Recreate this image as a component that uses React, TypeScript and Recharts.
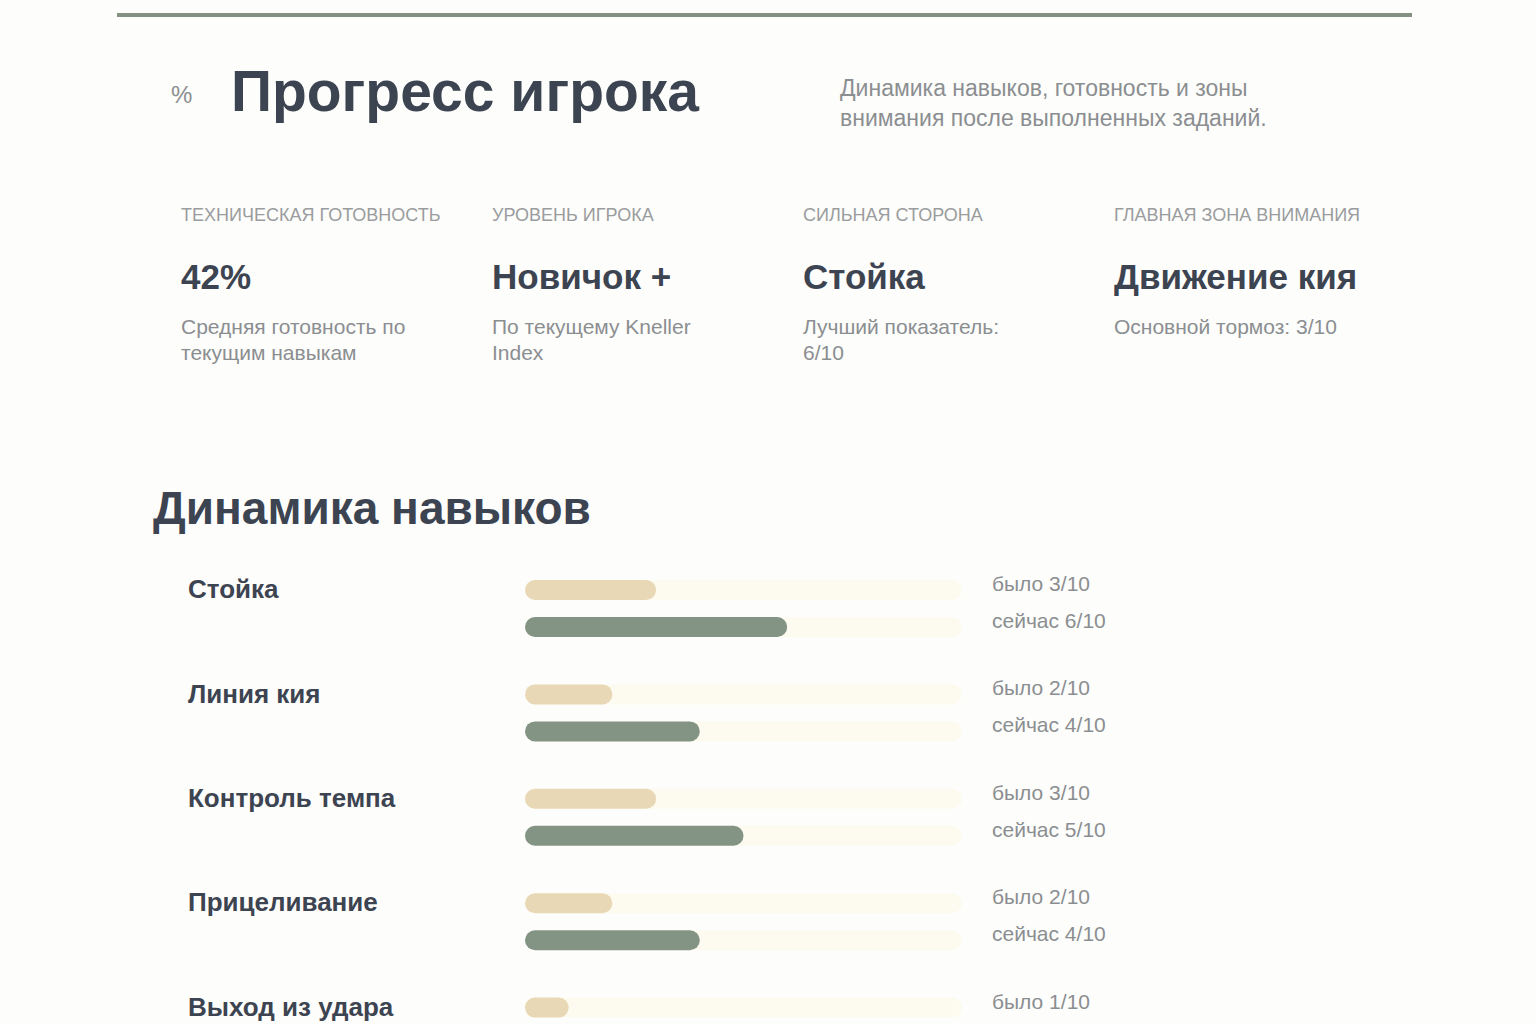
import { BarChart, Bar, XAxis, YAxis } from 'recharts';

const skills   = ['Стойка', 'Линия кия', 'Контроль темпа', 'Прицеливание', 'Выход из удара'];
const wasScore = [3, 2, 3, 2, 1];
const nowScore = [6, 4, 5, 4, 2];

const kpiLabels  = ['ТЕХНИЧЕСКАЯ ГОТОВНОСТЬ', 'УРОВЕНЬ ИГРОКА', 'СИЛЬНАЯ СТОРОНА', 'ГЛАВНАЯ ЗОНА ВНИМАНИЯ'];
const kpiValues  = ['42%', 'Новичок +', 'Стойка', 'Движение кия'];
const kpiNotes   = [
  ['Средняя готовность по', 'текущим навыкам'],
  ['По текущему Kneller', 'Index'],
  ['Лучший показатель:', '6/10'],
  ['Основной тормоз: 3/10'],
];

const data = skills.map((skill, i) => ({ skill, was: wasScore[i], now: nowScore[i] }));

const FONT  = '"Liberation Sans", Arial, sans-serif';
const DARK  = '#3d4451';
const MUTED = '#8b8e91';
const SAGE  = '#849484';
const SAND  = '#e9d8b6';
const TRACK = '#fdfbf0';
const MAX   = 10;

function SkillTick({ y, payload }: any) {
  return (
    <text x={188} y={y - 10} fill={DARK} fontSize={26} fontWeight={700} fontFamily={FONT}>
      {payload.value}
    </text>
  );
}

function makeShape(key: 'was' | 'now', fill: string, prefix: string) {
  return (props: any) => {
    const { x, y, width, height, payload } = props;
    const v = payload[key];
    const track = v > 0 ? (width / v) * MAX : 0;
    return (
      <g>
        <rect x={x} y={y} width={width} height={height} rx={height / 2} fill={fill} />
        <text x={x + track + 30} y={y + height / 2 + 1} fill={MUTED} fontSize={21} fontFamily={FONT}>
          {`${prefix} ${v}/10`}
        </text>
      </g>
    );
  };
}

export default function App() {
  return (
    <div style={{ position: 'absolute', left: 0, top: 0, width: 1536, height: 1024, overflow: 'hidden', background: '#fdfdfb', fontFamily: FONT }}>
      <div style={{ position: 'absolute', left: 117, top: 13, width: 1295, height: 4, background: '#849182' }} />

      <div style={{ position: 'absolute', left: 171, top: 81, fontSize: 24, color: MUTED }}>%</div>
      <div style={{ position: 'absolute', left: 231, top: 58, fontSize: 57, fontWeight: 700, color: DARK, whiteSpace: 'nowrap' }}>
        Прогресс игрока
      </div>
      <div style={{ position: 'absolute', left: 840, top: 73, fontSize: 23, lineHeight: '30px', color: MUTED, whiteSpace: 'nowrap' }}>
        Динамика навыков, готовность и зоны<br />внимания после выполненных заданий.
      </div>

      {kpiLabels.map((label, i) => (
        <div key={label} style={{ position: 'absolute', left: 181 + i * 311, top: 205, width: 300 }}>
          <div style={{ fontSize: 18, color: '#9a9c9e', whiteSpace: 'nowrap' }}>{label}</div>
          <div style={{ marginTop: 31, fontSize: 35, fontWeight: 700, color: DARK, whiteSpace: 'nowrap' }}>{kpiValues[i]}</div>
          <div style={{ marginTop: 17, fontSize: 21, lineHeight: '26px', color: MUTED, whiteSpace: 'nowrap' }}>
            {kpiNotes[i].map(line => <div key={line}>{line}</div>)}
          </div>
        </div>
      ))}

      <div style={{ position: 'absolute', left: 153, top: 481, fontSize: 46, fontWeight: 700, color: DARK, whiteSpace: 'nowrap' }}>
        Динамика навыков
      </div>

      <div style={{ position: 'absolute', left: 0, top: 556 }}>
        <BarChart
          width={1536}
          height={522}
          data={data}
          layout="vertical"
          margin={{ top: 0, right: 574, bottom: 0, left: 0 }}
          barSize={20}
          barGap={17}
        >
          <XAxis type="number" domain={[0, MAX]} hide />
          <YAxis type="category" dataKey="skill" width={525} axisLine={false} tickLine={false} tick={<SkillTick />} />
          <Bar dataKey="was" isAnimationActive={false} background={{ fill: TRACK, radius: 10 } as any} shape={makeShape('was', SAND, 'было')} />
          <Bar dataKey="now" isAnimationActive={false} background={{ fill: TRACK, radius: 10 } as any} shape={makeShape('now', SAGE, 'сейчас')} />
        </BarChart>
      </div>
    </div>
  );
}
